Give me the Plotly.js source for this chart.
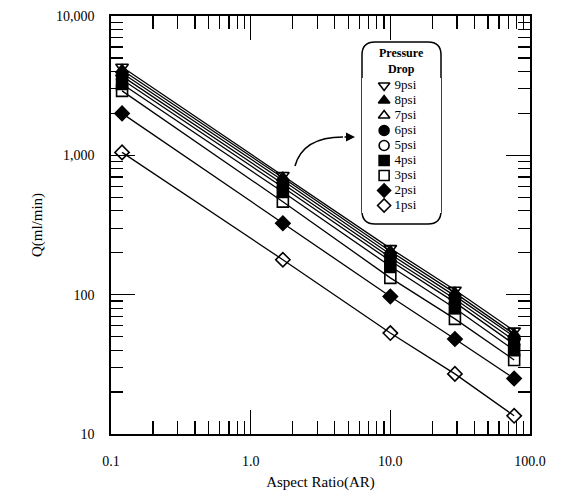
<!DOCTYPE html>
<html>
<head>
<meta charset="utf-8">
<script src="https://cdn.plot.ly/plotly-3.0.1.min.js"></script>
<style>html,body{margin:0;padding:0;background:#fff;}#chart{width:563px;height:494px;}</style>
</head>
<body>
<div id="chart"></div>
<script>
// Aspect ratio (x) values
var aspectRatio = [0.12, 1.7, 10, 29, 77];
// Flow rate Q (ml/min) per pressure drop
var seriesNames = ["9psi", "8psi", "7psi", "6psi", "5psi", "4psi", "3psi", "2psi", "1psi"];
var q9 = [4300, 720, 215, 108, 55];
var q8 = [4100, 690, 205, 103, 52];
var q7 = [3900, 660, 195, 98, 50];
var q6 = [3700, 625, 185, 93, 47];
var q5 = [3500, 590, 175, 88, 44];
var q4 = [3250, 545, 160, 80, 40];
var q3 = [2900, 465, 132, 67, 34];
var q2 = [2000, 325, 97, 48, 25];
var q1 = [1050, 178, 53, 27, 13.5];
var seriesValues = [q9, q8, q7, q6, q5, q4, q3, q2, q1];
var symbols = ["triangle-down-open", "triangle-up", "triangle-up-open", "circle", "circle-open", "square", "square-open", "diamond", "diamond-open"];

var xTickVals = [0.1, 1, 10, 100];
var xTickText = ["0.1", "1.0", "10.0", "100.0"];
var yTickVals = [10, 100, 1000, 10000];
var yTickText = ["10", "100", "1,000", "10,000"];
var minorVals = function(decades){
  var out = [];
  decades.forEach(function(d){ for (var k = 2; k <= 9; k++) out.push(k * d); });
  return out;
};

var FONT = "Liberation Serif, DejaVu Serif, serif";

var traces = seriesNames.map(function(name, i){
  return {
    x: aspectRatio, y: seriesValues[i], name: name, showlegend: false,
    type: "scatter", mode: "lines+markers",
    line: {color: "black", width: 1.3},
    marker: {symbol: symbols[i], size: 11, color: "black", line: {color: "black", width: 1.6}}
  };
});

// Legend drawn as a small key on its own axes (one row per series)
traces.push({
  x: seriesNames.map(function(){ return 0.28; }),
  y: seriesNames.map(function(_, i){ return i; }),
  text: seriesNames.map(function(n){ return " " + n; }),
  xaxis: "x2", yaxis: "y2", showlegend: false,
  type: "scatter", mode: "markers+text", textposition: "middle right",
  textfont: {family: FONT, size: 13, color: "black"},
  marker: {symbol: symbols, size: 10, color: "black", line: {color: "black", width: 1.6}},
  cliponaxis: false, hoverinfo: "skip"
});

function px(X){ return (X - 111) / 419; }
function py(Y){ return (434 - Y) / 418; }

var bx0 = px(362), bx1 = px(441), byt = py(42), byb = py(224);
var rx = 13/419, ry = 13/418;
var boxPath = "M " + (bx0+rx) + "," + byt + " L " + (bx1-rx) + "," + byt +
  " Q " + bx1 + "," + byt + " " + bx1 + "," + (byt-ry) +
  " L " + bx1 + "," + (byb+ry) + " Q " + bx1 + "," + byb + " " + (bx1-rx) + "," + byb +
  " L " + (bx0+rx) + "," + byb + " Q " + bx0 + "," + byb + " " + bx0 + "," + (byb+ry) +
  " L " + bx0 + "," + (byt-ry) + " Q " + bx0 + "," + byt + " " + (bx0+rx) + "," + byt + " Z";

var arrowPath = "M " + px(295) + "," + py(166) + " Q " + px(303) + "," + py(137) + " " + px(343) + "," + py(137);

var axisCommon = {
  type: "log", showgrid: false, zeroline: false,
  showline: true, linecolor: "black", linewidth: 1.6, mirror: "allticks",
  ticks: "inside", ticklen: 24, tickwidth: 1.3, tickcolor: "black",
  tickmode: "array",
  tickfont: {family: FONT, size: 14, color: "black"}
};

var layout = {
  width: 563, height: 494,
  margin: {l: 111, r: 33, t: 16, b: 60},
  paper_bgcolor: "white", plot_bgcolor: "white",
  font: {family: FONT, color: "black"},
  showlegend: false,
  xaxis: Object.assign({}, axisCommon, {
    range: [-1, 2], tickvals: xTickVals, ticktext: xTickText,
    ticklabelstandoff: 14,
    minor: {tickmode: "array", tickvals: minorVals([0.1, 1, 10]), ticks: "inside", ticklen: 13, tickwidth: 1.2, tickcolor: "black"},
    title: {text: "Aspect Ratio(AR)", font: {family: FONT, size: 15, color: "black"}, standoff: 8}
  }),
  yaxis: Object.assign({}, axisCommon, {
    range: [1, 4], tickvals: yTickVals, ticktext: yTickText,
    ticklabelstandoff: 12,
    minor: {tickmode: "array", tickvals: minorVals([10, 100, 1000]), ticks: "inside", ticklen: 12, tickwidth: 1.2, tickcolor: "black"},
    title: {text: "Q(ml/min)", font: {family: FONT, size: 15, color: "black"}, standoff: 10}
  }),
  xaxis2: {domain: [px(362), px(441)], range: [0, 1], anchor: "y2", visible: false, fixedrange: true},
  yaxis2: {domain: [py(213), py(78)], range: [8.5, -0.5], anchor: "x2", visible: false, fixedrange: true},
  shapes: [
    {type: "path", xref: "paper", yref: "paper", path: boxPath, line: {color: "black", width: 1.5}, fillcolor: "white", layer: "below"},
    {type: "path", xref: "paper", yref: "paper", path: arrowPath, line: {color: "black", width: 1.5}}
  ],
  annotations: [
    {xref: "paper", yref: "paper", x: (bx0 + bx1) / 2, y: py(44), xanchor: "center", yanchor: "top",
     text: "<b>Pressure<br>Drop</b>", showarrow: false, align: "center",
     font: {family: FONT, size: 12, color: "black"}},
    {xref: "paper", yref: "paper", x: px(355), y: py(137), text: "", showarrow: true,
     ax: -12, ay: 0, arrowhead: 2, arrowsize: 1.2, arrowwidth: 1.5, arrowcolor: "black"}
  ]
};

Plotly.newPlot("chart", traces, layout, {displayModeBar: false, staticPlot: true});
</script>
</body>
</html>
